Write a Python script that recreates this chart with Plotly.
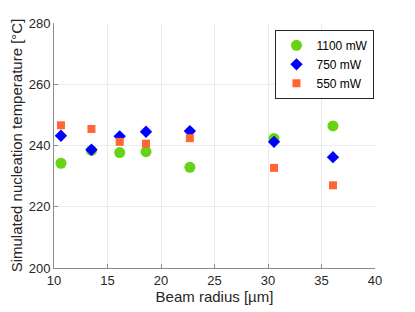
import plotly.graph_objects as go

radius_1100 = [10.65, 13.5, 16.14, 18.6, 22.7, 30.56, 36.07]
temp_1100 = [234.2, 238.4, 237.7, 238.0, 232.9, 242.3, 246.4]
radius_750 = [10.65, 13.5, 16.14, 18.6, 22.7, 30.56, 36.07]
temp_750 = [243.2, 238.6, 243.0, 244.5, 244.7, 241.2, 236.2]
radius_550 = [10.65, 13.5, 16.14, 18.6, 22.7, 30.56, 36.07]
temp_550 = [246.6, 245.4, 241.2, 240.6, 242.4, 232.7, 227.0]

x_ticks = [10, 15, 20, 25, 30, 35, 40]
y_ticks = [200, 220, 240, 260, 280]

fig = go.Figure()
fig.add_trace(go.Scatter(x=radius_1100, y=temp_1100, mode="markers", name="1100 mW",
                         marker=dict(symbol="circle", size=11, color="#66d314", line=dict(width=0))))
fig.add_trace(go.Scatter(x=radius_750, y=temp_750, mode="markers", name="750 mW",
                         marker=dict(symbol="diamond", size=9.5, color="#0000ff", line=dict(width=0))))
fig.add_trace(go.Scatter(x=radius_550, y=temp_550, mode="markers", name="550 mW",
                         marker=dict(symbol="square", size=8, color="#ff6633", line=dict(width=0))))

fam = "Liberation Sans, Arial, sans-serif"
fig.update_layout(
    template="none",
    width=415, height=312,
    margin=dict(l=46, r=48, t=15, b=52, autoexpand=False),
    plot_bgcolor="white", paper_bgcolor="white",
    font=dict(family=fam, size=13, color="#262626"),
    showlegend=True,
    legend=dict(x=0.69, y=0.972, xanchor="left", yanchor="top",
                bordercolor="#262626", borderwidth=1, bgcolor="white",
                font=dict(family=fam, size=12, color="#000000"),
                tracegroupgap=0),
    xaxis=dict(range=[10, 40], tickvals=x_ticks, showgrid=True, gridcolor="#ebebeb", gridwidth=1,
               showline=True, linecolor="#8c8c8c", linewidth=1, ticks="inside", ticklen=4,
               tickcolor="#8c8c8c", zeroline=False, mirror=False, automargin=False,
               tickfont=dict(size=13, color="#262626"),
               title=dict(text="Beam radius [µm]", font=dict(size=15, color="#262626"), standoff=1)),
    yaxis=dict(range=[200, 280], tickvals=y_ticks, showgrid=True, gridcolor="#ebebeb", gridwidth=1,
               showline=True, linecolor="#8c8c8c", linewidth=1, ticks="inside", ticklen=4,
               tickcolor="#8c8c8c", zeroline=False, mirror=False, automargin=False,
               tickfont=dict(size=13, color="#262626"),
               title=dict(text="Simulated nucleation temperature [°C]", font=dict(size=15, color="#262626"), standoff=9)),
)

fig.write_html("out.html")
